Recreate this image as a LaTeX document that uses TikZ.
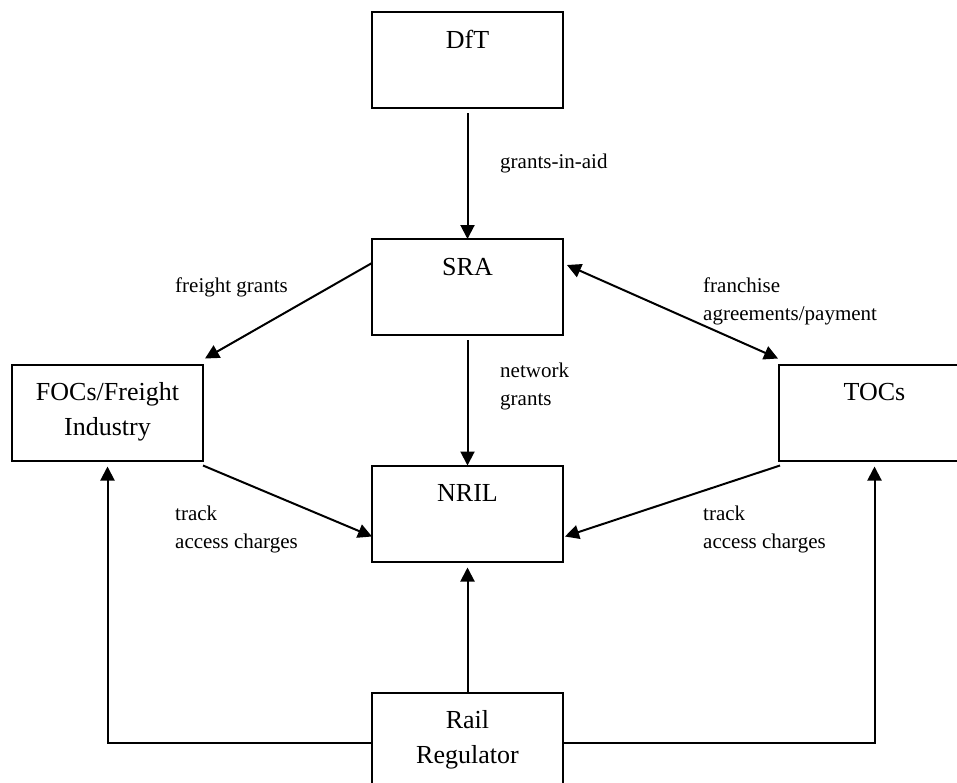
\documentclass[tikz,border=0pt]{standalone}
\usepackage{fontspec}
\setmainfont{Liberation Serif}
\usetikzlibrary{arrows.meta,calc}
\begin{document}
\begin{tikzpicture}[x=1pt,y=-1pt,
  box/.style={draw, line width=2pt, minimum width=191pt, minimum height=96pt, inner sep=0pt, outer sep=0pt},
  blbl/.style={font=\fontsize{26}{35}\selectfont, anchor=base, inner sep=0pt},
  elbl/.style={font=\fontsize{21}{28}\selectfont, anchor=base west, inner sep=0pt},
  arr/.style={line width=2pt, -{Triangle[length=14pt,width=14pt]}},
  arrboth/.style={line width=2pt, {Triangle[length=14pt,width=14pt]}-{Triangle[length=14pt,width=14pt]}},
]
\useasboundingbox (0,0) rectangle (957,782);

% boxes
\node[box] (dft)  at (467.5,60)    {};
\node[box] (sra)  at (467.5,287)   {};
\node[box] (nril) at (467.5,513.5) {};
\node[box] (rr)   at (467.5,740.5) {};
\node[box] (focs) at (107.5,412.5) {};
\node[box] (tocs) at (874.5,412.5) {};

% box labels
\node[blbl] (dftT)  at ($(dft.north)+(0,36)$)  {DfT};
\node[blbl] (sraT)  at ($(sra.north)+(0,36)$)  {SRA};
\node[blbl] (nrilT) at ($(nril.north)+(0,36)$) {NRIL};
\node[blbl] (rrT)   at ($(rr.north)+(0,36)$)   {\begin{tabular}[t]{@{}c@{}}Rail\\Regulator\end{tabular}};
\node[blbl] (focsT) at ($(focs.north)+(0,36)$) {\begin{tabular}[t]{@{}c@{}}FOCs/Freight\\Industry\end{tabular}};
\node[blbl] (tocsT) at ($(tocs.north)+(0,36)$) {TOCs};

% connectors
\draw[arr] ($(dft.south)+(0,5)$) -- (sra.north);
\draw[arr] ($(sra.south)+(0,5)$) -- (nril.north);
\draw[arr] ($(sra.west)+(0,-24)$) -- ($(focs.north east)+(2,-6)$);
\draw[arrboth] ($(sra.east)+(4,-22)$) -- ($(tocs.north west)+(-1,-6)$);
\draw[arr] ($(focs.south east)+(0,5)$) -- ($(nril.west)+(0,23)$);
\draw[arr] ($(tocs.south west)+(1,5)$) -- ($(nril.east)+(2,23)$);
\draw[arr] (rr.north) -- ($(nril.south)+(0,6)$);
\draw[arr] ($(rr.west)+(0,2.5)$) -| ($(focs.south)+(0,6)$);
\draw[arr] ($(rr.east)+(0,2.5)$) -| ($(tocs.south)+(0,6)$);

% edge labels
\node[elbl] (l1) at (500,168) {grants-in-aid};
\node[elbl] (l2) at (500,377) {\begin{tabular}[t]{@{}l@{}}network\\grants\end{tabular}};
\node[elbl] (l3) at (175,292) {freight grants};
\node[elbl] (l4) at (703,292) {\begin{tabular}[t]{@{}l@{}}franchise\\agreements/payment\end{tabular}};
\node[elbl] (l5) at (175,520) {\begin{tabular}[t]{@{}l@{}}track\\access charges\end{tabular}};
\node[elbl] (l6) at (703,520) {\begin{tabular}[t]{@{}l@{}}track\\access charges\end{tabular}};
\end{tikzpicture}
\end{document}
